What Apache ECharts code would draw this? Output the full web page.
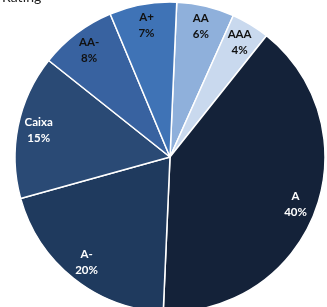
<!DOCTYPE html>
<html>
<head>
<meta charset="utf-8">
<script src="https://cdn.jsdelivr.net/npm/echarts@6/dist/echarts.min.js"></script>
<style>
  html, body { margin: 0; padding: 0; background: #ffffff; }
  #rating_pie { width: 327px; height: 307px; }
</style>
</head>
<body>
<div id="rating_pie"></div>
<script>
// Data, clockwise from the top
const categories = ['AA', 'AAA', 'A', 'A-', 'Caixa', 'AA-', 'A+'];
const shares = [6, 4, 40, 20, 15, 8, 7];
const sliceColors = ['#8fb0db', '#c9d9ee', '#142239', '#1f3a5e', '#2a4a75', '#3862a0', '#3f73b6'];
const labelColors = ['#111111', '#111111', '#ffffff', '#ffffff', '#ffffff', '#111111', '#111111'];

(function() {
  const chartDom = document.getElementById('rating_pie');
  const chart = echarts.init(chartDom);

  const center = [170, 157];

  const pieData = categories.map((name, i) => ({
    name: name,
    value: shares[i],
    itemStyle: { color: sliceColors[i] }
  }));

  // transparent copy used only to put the labels near the rim
  const labelData = categories.map((name, i) => ({
    name: name,
    value: shares[i],
    itemStyle: { color: 'rgba(0,0,0,0)' },
    label: { color: labelColors[i] }
  }));

  const option = {
    backgroundColor: '#ffffff',
    animation: false,
    // title is cropped off at the top in the reference, only the descender shows
    graphic: [{
      type: 'text',
      left: 2,
      top: -10,
      style: {
        text: 'Rating',
        font: '14px Lato',
        fill: '#222222'
      }
    }],
    series: [
      {
        type: 'pie',
        center: center,
        radius: [0, 155],
        startAngle: 87.5,
        clockwise: true,
        data: pieData,
        itemStyle: { borderColor: '#ffffff', borderWidth: 1.5 },
        label: { show: false },
        labelLine: { show: false },
        silent: true
      },
      {
        type: 'pie',
        center: center,
        radius: [107, 155],
        startAngle: 87.5,
        clockwise: true,
        data: labelData,
        itemStyle: { borderWidth: 0 },
        label: {
          show: true,
          position: 'inside',
          formatter: (p) => p.name + '\n' + p.value + '%',
          fontFamily: 'Lato',
          fontSize: 11.5,
          fontWeight: 'bold',
          lineHeight: 16,
          align: 'center'
        },
        labelLine: { show: false },
        silent: true
      }
    ]
  };

  chart.setOption(option);
})();
</script>
</body>
</html>
